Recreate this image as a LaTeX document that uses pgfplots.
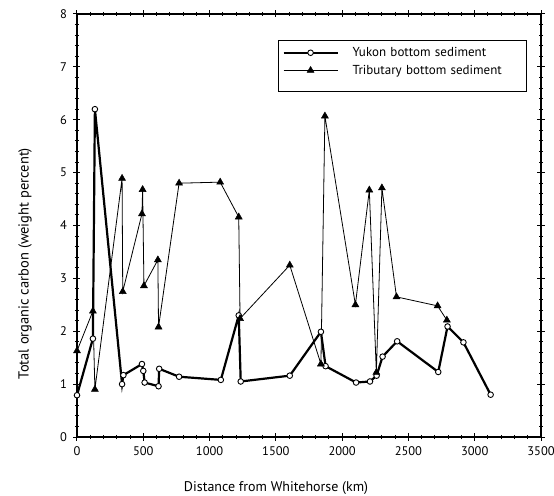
\documentclass[border=0pt]{standalone}
\usepackage{fontspec}
\setmainfont{PT Sans}
\usepackage{pgfplots}
\pgfplotsset{compat=1.18}
\begin{document}
\begin{tikzpicture}[font=\fontsize{12.5bp}{15bp}\selectfont]
\begin{axis}[
  width=464bp, height=423bp, scale only axis,
  xmin=0, xmax=3500, ymin=0, ymax=8,
  xtick={0,500,...,3500}, ytick={0,1,...,8},
  minor x tick num=4, minor y tick num=4,
  tick align=center,
  major tick length=7bp, minor tick length=4bp,
  axis line style={line width=1.3bp},
  every tick/.style={black, line width=1bp},
  /pgf/number format/assume math mode=true,
  /pgf/number format/set thousands separator={},
  xticklabel style={yshift=-3bp},
  yticklabel style={xshift=-3bp},
  xlabel={Distance from Whitehorse (km)},
  ylabel={Total organic carbon (weight percent)},
  xlabel style={at={(axis description cs:0.429,-0.1206)}, anchor=center, font=\fontsize{14bp}{16bp}\selectfont},
  ylabel style={at={(axis description cs:-0.112,0.41)}, anchor=center, font=\fontsize{14.5bp}{16bp}\selectfont},
  legend cell align=left,
  legend style={at={(0.970,0.9385)}, anchor=north east, draw=black, line width=0.8bp,
    font=\fontsize{13bp}{15bp}\selectfont, inner xsep=4bp, inner ysep=5bp,
    row sep=3bp,
    nodes={text width=156bp, align=left, inner xsep=14bp, inner ysep=2bp}},
  legend image code/.code={\draw[mark repeat=2,mark phase=2,#1] plot coordinates {(0bp,0bp) (27bp,0bp) (54bp,0bp)};},
]
\coordinate (sw) at (rel axis cs:0,0);
\coordinate (ne) at (rel axis cs:1,1);
\addplot[black, line width=2.2bp, mark=*, mark size=2.8bp,
  mark options={fill=white, draw=black, line width=0.9bp, solid}] coordinates {
(0,0.79) (120,1.86) (135,6.2) (340,1.0) (350,1.17) (490,1.38) (500,1.25)
(510,1.03) (615,0.96) (620,1.29) (770,1.14) (1085,1.08) (1220,2.30)
(1235,1.05) (1605,1.16) (1840,1.99) (1875,1.34) (2105,1.03) (2210,1.05)
(2260,1.16) (2305,1.52) (2415,1.81) (2725,1.23) (2795,2.09) (2915,1.79)
(3120,0.80)
};
\addlegendentry{Yukon bottom sediment}
\addplot[black, line width=0.8bp, mark=triangle*, mark size=4bp,
  mark options={fill=black, draw=black, line width=0.5bp, solid}] coordinates {
(0,1.63) (120,2.38) (135,0.90) (340,4.89) (345,2.75) (490,4.22) (495,4.68)
(505,2.86) (610,3.35) (615,2.08) (770,4.80) (1080,4.82) (1220,4.16)
(1230,2.24) (1605,3.25) (1840,1.38) (1870,6.07) (2100,2.50) (2205,4.67)
(2258,1.22) (2300,4.71) (2410,2.65) (2720,2.48) (2790,2.21)
};
\addlegendentry{Tributary bottom sediment}
\addlegendimage{empty legend}
\addlegendentry{}
\end{axis}
\pgfresetboundingbox
\path[use as bounding box] ([shift={(-77bp,-59bp)}]sw) rectangle ([shift={(13bp,14bp)}]ne);
\end{tikzpicture}
\end{document}
